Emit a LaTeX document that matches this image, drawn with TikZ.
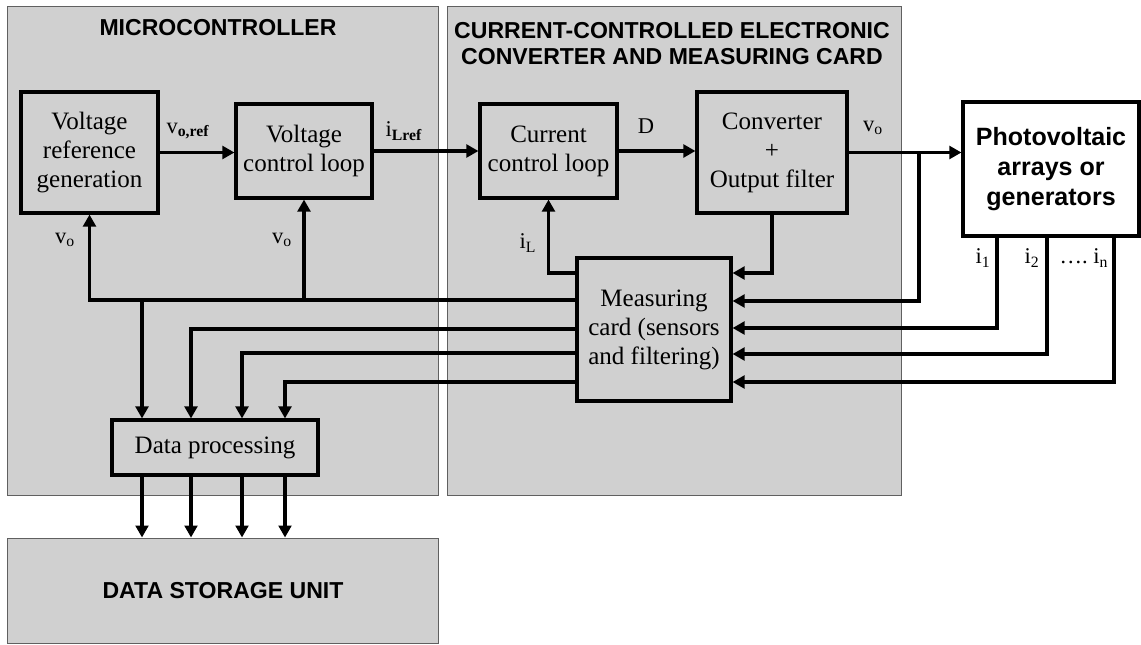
\documentclass[tikz,border=0pt]{standalone}
\usepackage{fontspec}
\setmainfont{Liberation Serif}
\setsansfont{Liberation Sans}
\usetikzlibrary{arrows.meta,calc}
\definecolor{PanelGray}{RGB}{208,208,208}
\definecolor{EdgeGray}{RGB}{96,96,96}

\begin{document}
\begin{tikzpicture}[
    x=0.025cm, y=-0.025cm,
    font=\fontsize{17.8}{20.6}\selectfont,
    panel/.style={draw=EdgeGray, line width=0.7pt, fill=PanelGray, inner sep=0pt},
    block/.style={draw=black, line width=2.2pt, fill=PanelGray, align=center, inner sep=0pt},
    heading/.style={font=\sffamily\bfseries\fontsize{16.4}{18.5}\selectfont, align=center},
    sig/.style={font=\fontsize{16}{18}\selectfont, inner sep=0pt},
    arrow/.style={-{Triangle[length=8.5pt, width=9pt]}, line width=2.2pt}
  ]
  \useasboundingbox (0,0) rectangle (1141,644);

  % background panels
  \node[panel, minimum width=10.75cm, minimum height=12.2cm] (mcu) at (223,251) {};
  \node[panel, minimum width=11.325cm, minimum height=12.2cm] (card) at (674.5,251) {};
  \node[panel, heading, minimum width=10.75cm, minimum height=2.625cm] (store) at (223,590.5) {DATA STORAGE UNIT};
  \node[heading] (mcutitle) at (218,28) {MICROCONTROLLER};
  \node[heading] (cardtitle) at (672,44) {CURRENT-CONTROLLED ELECTRONIC\\CONVERTER AND MEASURING CARD};

  % blocks
  \node[block, minimum width=3.425cm, minimum height=3.025cm] (vref) at (89.5,152.5) {Voltage\\reference\\generation};
  \node[block, minimum width=3.4cm, minimum height=2.35cm] (vloop) at (304,151) {Voltage\\control loop};
  \node[block, minimum width=3.425cm, minimum height=2.35cm] (iloop) at (548.5,151) {Current\\control loop};
  \node[block, minimum width=3.75cm, minimum height=3.025cm] (conv) at (772,152.5) {Converter\\+\\Output filter};
  \node[block, minimum width=3.85cm, minimum height=3.575cm] (meas) at (654,329.5) {Measuring\\card (sensors\\and filtering)};
  \node[block, minimum width=5.15cm, minimum height=1.375cm] (proc) at (215,447.5) {Data processing};
  \node[block, fill=white, minimum width=4.4cm, minimum height=3.35cm,
        font=\sffamily\bfseries\fontsize{17.8}{21.3}\selectfont] (pv) at (1051,169) {Photovoltaic\\arrays or\\generators};

  % signal labels
  \node[sig] (lvoref) at (188,131) {v\textsubscript{\textbf{o,ref}}};
  \node[sig] (lilref) at (404,131) {i\textsubscript{\textbf{Lref}}};
  \node[sig] (lduty) at (646,126) {D};
  \node[sig] (lvout) at (873,128) {v\textsubscript{o}};
  \node[sig] (lvfa) at (65,240) {v\textsubscript{o}};
  \node[sig] (lvfb) at (282,240) {v\textsubscript{o}};
  \node[sig] (lil) at (528,243) {i\textsubscript{L}};
  \node[sig] (li1) at (983,258) {i\textsubscript{1}};
  \node[sig] (li2) at (1032,258) {i\textsubscript{2}};
  \node[sig] (lin) at (1084,258) {\dots.\ i\textsubscript{n}};

  \coordinate (vtap) at (919,0 |- conv.east);
  \coordinate (bustap) at (142,300);

  % forward path
  \draw[arrow] (vref.east) -- (vref.east -| vloop.west);
  \draw[arrow] (vloop.east) -- (iloop.west);
  \draw[arrow] (iloop.east) -- (iloop.east -| conv.west);
  \draw[arrow] (conv.east) -- (conv.east -| pv.west);

  % measurements into the card
  \draw[arrow] (conv.south) |- (meas.east |- 0,273);
  \draw[arrow] (vtap) |- (meas.east |- 0,301);
  \foreach \x/\y in {997/328, 1047/354, 1114/382}
    \draw[arrow] (\x,0 |- pv.south) |- (meas.east |- 0,\y);

  % feedback and data lines
  \draw[arrow] (meas.west |- 0,273) -| (iloop.south);
  \draw[arrow] (meas.west |- 0,300) -| (vref.south);
  \draw[arrow] (vloop.south |- bustap) -- (vloop.south);
  \draw[arrow] (bustap) -- (bustap |- proc.north);
  \foreach \x/\y in {191/329, 242/353, 285/382}
    \draw[arrow] (meas.west |- 0,\y) -| (\x,0 |- proc.north);
  \foreach \x in {142,191,242,285}
    \draw[arrow] (\x,0 |- proc.south) -- (\x,0 |- store.north);
\end{tikzpicture}
\end{document}
